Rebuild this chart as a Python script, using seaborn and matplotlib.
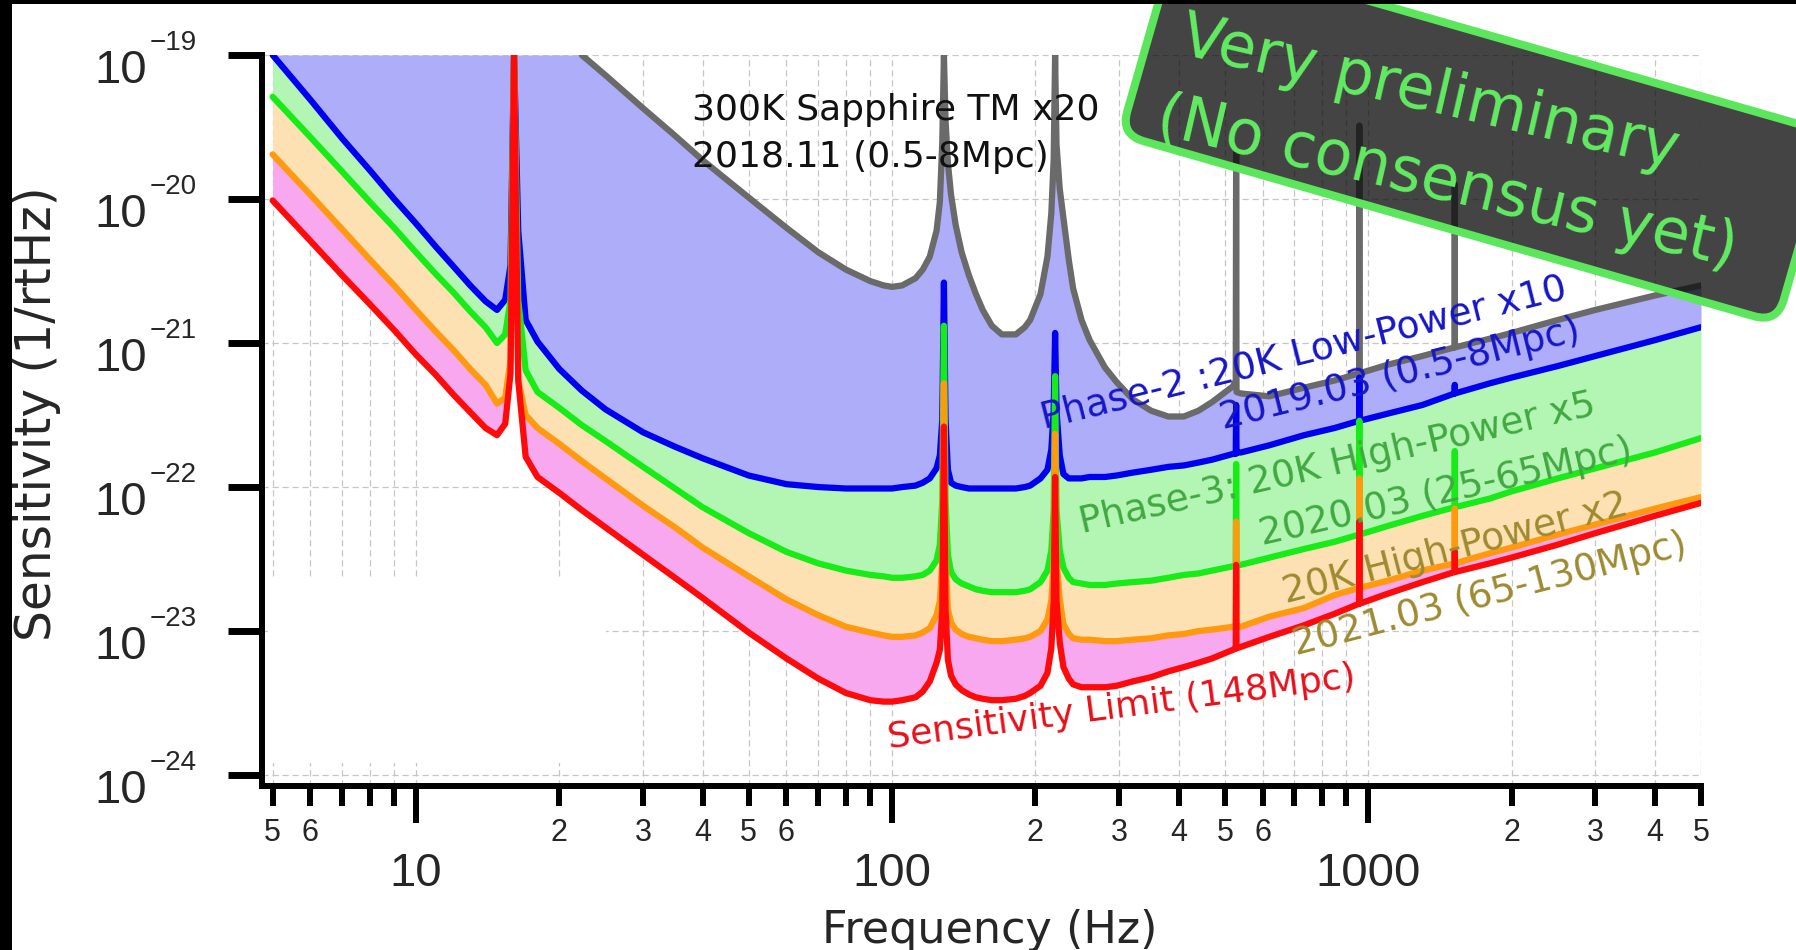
import numpy as np
import pandas as pd
import matplotlib
matplotlib.use("Agg")
import matplotlib.pyplot as plt
import seaborn as sns
from matplotlib.patches import FancyBboxPatch, Rectangle
from matplotlib.transforms import Affine2D
from matplotlib.ticker import FixedLocator, FixedFormatter, NullLocator, NullFormatter

# ---------------- data ----------------
freq_hz = [5, 6, 7, 8, 9, 10, 11, 12, 13, 14,
           14.8, 15.4, 15.8, 16.07, 16.4, 17, 18, 20, 22.3, 25,
           30, 35, 40, 50, 60, 70, 80, 90, 96, 100,
           105, 112, 116, 120, 124, 126, 127.5, 128.5, 129.5, 131,
           133, 136, 140, 145, 150, 155, 162, 170, 182, 190,
           195, 205, 212, 216, 218.5, 220, 221.5, 225, 229, 235,
           240, 250, 260, 280, 296, 320, 350, 380, 410, 440,
           470, 520, 527, 528, 529, 540, 620, 733, 850, 957,
           958, 959, 1100, 1300, 1519, 1520, 1521, 1800, 2000, 2500,
           3000, 4000, 5000]

# log10 of sensitivity [1/rtHz]
limit_log10 = [-20.01, -20.29, -20.53, -20.73, -20.91, -21.08, -21.22, -21.36, -21.48, -21.59,
               -21.64, -21.56, -21.21, -19.00, -21.26, -21.79, -21.93, -22.04, -22.16, -22.28,
               -22.47, -22.63, -22.77, -23.01, -23.19, -23.33, -23.43, -23.48, -23.49, -23.49,
               -23.48, -23.46, -23.42, -23.35, -23.22, -23.13, -22.85, -21.58, -22.85, -23.20,
               -23.31, -23.37, -23.41, -23.44, -23.46, -23.47, -23.48, -23.48, -23.47, -23.45,
               -23.43, -23.38, -23.29, -23.12, -22.79, -21.93, -22.79, -23.08, -23.25, -23.33,
               -23.37, -23.39, -23.39, -23.39, -23.38, -23.35, -23.32, -23.28, -23.25, -23.22,
               -23.19, -23.13, -23.12, -22.54, -23.12, -23.11, -23.04, -22.96, -22.88, -22.81,
               -22.24, -22.81, -22.74, -22.66, -22.59, -22.45, -22.59, -22.53, -22.49, -22.40,
               -22.32, -22.20, -22.11]

hp_x2_log10 = [-19.69, -19.97, -20.21, -20.42, -20.60, -20.77, -20.92, -21.05, -21.18, -21.29,
               -21.42, -21.38, -21.12, -19.00, -21.26, -21.50, -21.59, -21.70, -21.82, -21.94,
               -22.13, -22.28, -22.42, -22.62, -22.78, -22.89, -22.97, -23.01, -23.03, -23.04,
               -23.04, -23.03, -23.01, -22.98, -22.89, -22.79, -22.51, -21.28, -22.51, -22.85,
               -22.94, -22.99, -23.02, -23.04, -23.05, -23.06, -23.07, -23.07, -23.06, -23.05,
               -23.04, -23.00, -22.92, -22.79, -22.51, -21.63, -22.51, -22.78, -22.95, -23.02,
               -23.05, -23.06, -23.06, -23.07, -23.07, -23.06, -23.05, -23.03, -23.02, -23.00,
               -22.99, -22.97, -22.97, -22.24, -22.97, -22.97, -22.90, -22.84, -22.75, -22.70,
               -21.94, -22.70, -22.65, -22.58, -22.53, -22.15, -22.53, -22.46, -22.42, -22.33,
               -22.26, -22.15, -22.07]

hp_x5_log10 = [-19.29, -19.57, -19.81, -20.02, -20.20, -20.37, -20.52, -20.65, -20.78, -20.89,
               -21.00, -20.94, -20.70, -19.00, -20.70, -21.19, -21.34, -21.45, -21.57, -21.68,
               -21.86, -22.01, -22.14, -22.32, -22.45, -22.53, -22.58, -22.61, -22.62, -22.63,
               -22.63, -22.62, -22.61, -22.58, -22.51, -22.40, -22.09, -20.88, -22.09, -22.47,
               -22.59, -22.64, -22.67, -22.69, -22.71, -22.72, -22.73, -22.73, -22.73, -22.72,
               -22.71, -22.66, -22.58, -22.44, -22.16, -21.23, -22.16, -22.44, -22.56, -22.63,
               -22.66, -22.67, -22.68, -22.68, -22.67, -22.66, -22.65, -22.63, -22.61, -22.60,
               -22.58, -22.55, -22.55, -21.84, -22.54, -22.54, -22.49, -22.43, -22.38, -22.33,
               -21.54, -22.33, -22.27, -22.20, -22.14, -21.75, -22.14, -22.08, -22.03, -21.94,
               -21.87, -21.76, -21.66]

lp_x10_log10 = [-19.00, -19.31, -19.58, -19.80, -20.00, -20.17, -20.33, -20.47, -20.60, -20.71,
                -20.77, -20.70, -20.46, -19.00, -20.22, -20.84, -20.99, -21.18, -21.33, -21.46,
                -21.62, -21.72, -21.80, -21.92, -21.98, -22.00, -22.01, -22.01, -22.01, -22.01,
                -22.00, -21.99, -21.97, -21.94, -21.87, -21.78, -21.53, -20.58, -21.53, -21.88,
                -21.97, -21.99, -22.00, -22.01, -22.01, -22.01, -22.01, -22.01, -22.01, -22.00,
                -21.99, -21.94, -21.88, -21.74, -21.47, -20.93, -21.47, -21.78, -21.91, -21.94,
                -21.94, -21.94, -21.93, -21.93, -21.92, -21.90, -21.88, -21.86, -21.85, -21.83,
                -21.81, -21.77, -21.77, -21.43, -21.76, -21.76, -21.71, -21.64, -21.59, -21.54,
                -21.24, -21.54, -21.49, -21.43, -21.35, -21.29, -21.35, -21.28, -21.24, -21.16,
                -21.09, -20.98, -20.89]

nan = float("nan")
# 300K sapphire curve is above the plotted range below ~22 Hz
sapphire_log10 = [nan] * 18 + [
    -19.00, -19.14,
    -19.37, -19.56, -19.73, -19.99, -20.20, -20.37, -20.49, -20.57, -20.60, -20.61,
    -20.60, -20.55, -20.49, -20.40, -20.22, -20.02, -19.60, -19.00, -19.45, -19.75,
    -19.97, -20.18, -20.37, -20.53, -20.66, -20.77, -20.88, -20.94, -20.94, -20.89,
    -20.84, -20.66, -20.40, -20.10, -19.72, -19.00, -19.62, -19.93, -20.13, -20.42,
    -20.62, -20.84, -20.98, -21.17, -21.27, -21.39, -21.47, -21.51, -21.51, -21.47,
    -21.41, -21.30, -21.26, -19.66, -21.34, -21.35, -21.37, -21.31, -21.26, -21.21,
    -19.49, -21.21, -21.15, -21.09, -21.03, -19.90, -21.03, -20.97, -20.93, -20.84,
    -20.77, -20.67, -20.60]

x_major_ticks = [10, 100, 1000]
x_major_labels = ["10", "100", "1000"]
x_minor_ticks = [5, 6, 7, 8, 9, 20, 30, 40, 50, 60, 70, 80, 90,
                 200, 300, 400, 500, 600, 700, 800, 900, 2000, 3000, 4000, 5000]
x_minor_labels = ["5", "6", "", "", "", "2", "3", "4", "5", "6", "", "", "",
                  "2", "3", "4", "5", "6", "", "", "", "2", "3", "4", "5"]
y_decades = [-19, -20, -21, -22, -23, -24]

# ---------------- styling ----------------
sns.set_style("white")
plt.rcParams["font.family"] = ["DejaVu Sans"]

W, H, DPI = 1796, 950, 100
fig = plt.figure(figsize=(W / DPI, H / DPI), dpi=DPI, facecolor="white")


def px(x, y):
    return x / W, 1 - y / H


AX_L, AX_R, AX_T, AX_B = 262, 1701, 55, 786
ax = fig.add_axes([AX_L / W, 1 - AX_B / H, (AX_R - AX_L) / W, (AX_B - AX_T) / H])
ax.set_xscale("log")
ax.set_yscale("log")
ax.set_xlim(4.75, 5000)
ax.set_ylim(8.4e-25, 1e-19)
ax.set_facecolor("white")
ax.set_axisbelow(True)

f = np.array(freq_hz)
red = 10.0 ** np.array(limit_log10)
orange = 10.0 ** np.array(hp_x2_log10)
green = 10.0 ** np.array(hp_x5_log10)
blue = 10.0 ** np.array(lp_x10_log10)
gray = 10.0 ** np.array(sapphire_log10)
gray_top = np.where(np.isnan(gray), 1e-19, gray)

# grid
grid_kw = dict(color="#c6c6c6", lw=0.9, ls=(0, (5, 3)))
ax.grid(True, which="major", axis="y", **grid_kw)
ax.grid(True, which="both", axis="x", **grid_kw)

# blank (white) area hiding grid in lower left, as in reference
ax.add_patch(Rectangle((0.004, 0.031), 0.235, 0.255, transform=ax.transAxes,
                       facecolor="white", edgecolor="none", zorder=0.8))

# fills
ax.fill_between(f, blue, gray_top, color="#adadf9", lw=0, zorder=1.2)
ax.fill_between(f, green, blue, color="#b3f6b3", lw=0, zorder=1.3)
ax.fill_between(f, orange, green, color="#fde1b3", lw=0, zorder=1.4)
ax.fill_between(f, red, orange, color="#f7a8ee", lw=0, zorder=1.5)

# lines via seaborn
frames = []
for name, vals in [("sapphire", gray), ("lp10", blue), ("hp5", green),
                   ("hp2", orange), ("limit", red)]:
    frames.append(pd.DataFrame({"freq": f, "asd": vals, "curve": name}))
df = pd.concat(frames, ignore_index=True)
styles = {"sapphire": ("#6a6a6a", 3.0), "lp10": ("#0000f0", 3.1),
          "hp5": ("#18ec18", 3.2), "hp2": ("#ff9a10", 3.3), "limit": ("#ff0a0a", 3.4)}
for name, (col, z) in styles.items():
    sub = df[df["curve"] == name].dropna()
    sns.lineplot(data=sub, x="freq", y="asd", color=col, linewidth=4.5,
                 estimator=None, sort=False, ax=ax, legend=False, zorder=z)

# spines
for s in ["top", "right"]:
    ax.spines[s].set_visible(False)
for s in ["left", "bottom"]:
    ax.spines[s].set_linewidth(4.3)
    ax.spines[s].set_color("black")

# ticks
ax.xaxis.set_major_locator(FixedLocator(x_major_ticks))
ax.xaxis.set_major_formatter(FixedFormatter(x_major_labels))
ax.xaxis.set_minor_locator(FixedLocator(x_minor_ticks))
ax.xaxis.set_minor_formatter(FixedFormatter(x_minor_labels))
ax.yaxis.set_major_locator(FixedLocator([10.0 ** d for d in y_decades]))
ax.yaxis.set_major_formatter(NullFormatter())
ax.yaxis.set_minor_locator(NullLocator())
ax.tick_params(axis="x", which="major", direction="out", bottom=True, length=26.6,
               width=4.3, pad=21, labelsize=34, labelfontfamily="Liberation Sans", color="black")
ax.tick_params(axis="x", which="minor", direction="out", bottom=True, length=14.4,
               width=4.3, pad=8.5, labelsize=22, labelfontfamily="Liberation Sans", color="black")
ax.tick_params(axis="y", which="major", direction="out", left=True, length=24.5,
               width=5, color="black")

# y tick labels: 10 with superscript exponent
for d in y_decades:
    ax.annotate("10", xy=(0, 10.0 ** d), xycoords=("axes fraction", "data"),
                xytext=(-115, -28), textcoords="offset pixels", ha="right", va="baseline",
                fontsize=34, family="Liberation Sans", annotation_clip=False)
    ax.annotate("\u2212" + str(-d), xy=(0, 10.0 ** d), xycoords=("axes fraction", "data"),
                xytext=(-112, 5), textcoords="offset pixels", ha="left", va="baseline",
                fontsize=20, family="Liberation Sans", annotation_clip=False)

# axis labels
ax.set_xlabel("Frequency (Hz)", fontsize=32)
ax.xaxis.label.set_va("baseline")
ax.xaxis.set_label_coords((990 - AX_L) / (AX_R - AX_L), (AX_B - 943) / (AX_B - AX_T))
ax.set_ylabel("Sensitivity (1/rtHz)", fontsize=35)
ax.yaxis.label.set_va("center")
ax.yaxis.set_label_coords((37 - AX_L) / (AX_R - AX_L), (AX_B - 414) / (AX_B - AX_T))

# curve annotations
lab = dict(fontsize=26, va="baseline", rotation_mode="anchor", zorder=6)
fig.text(*px(692, 120), "300K Sapphire TM x20", ha="left", color="#111111", **lab)
fig.text(*px(692, 167), "2018.11 (0.5-8Mpc)", ha="left", color="#111111", **lab)

lab27 = dict(lab, fontsize=27)
fig.text(*px(1569, 298), "Phase-2 :20K Low-Power x10", ha="right", rotation=14,
         color="#1616c8", **lab27)
fig.text(*px(1582, 340), "2019.03 (0.5-8Mpc)", ha="right", rotation=14,
         color="#1616c8", **lab27)
fig.text(*px(1082, 533), "Phase-3: 20K High-Power x5", ha="left", rotation=13,
         color="#42a842", **lab27)
fig.text(*px(1262, 545), "2020.03 (25-65Mpc)", ha="left", rotation=13,
         color="#42a842", **lab27)
fig.text(*px(1286, 603), "20K High-Power x2", ha="left", rotation=14.5,
         color="#9e8a30", **lab27)
fig.text(*px(1296, 655), "2021.03 (65-130Mpc)", ha="left", rotation=14.5,
         color="#9e8a30", **lab27)
fig.text(*px(889, 748), "Sensitivity Limit (148Mpc)", ha="left", rotation=7.5,
         color="#e8101a", **lab)

# "Very preliminary" stamp
cx, cy = 1476, H - 134
bw, bh = 683, 197
stamp = FancyBboxPatch((cx - bw / 2, cy - bh / 2), bw, bh,
                       boxstyle="round,pad=0,rounding_size=24",
                       transform=Affine2D().rotate_deg_around(cx, cy, -16),
                       facecolor=(0.06, 0.06, 0.06, 0.78), edgecolor="#5ce65c",
                       linewidth=5.8, zorder=7)
fig.add_artist(stamp)
stamp_kw = dict(rotation=-13, rotation_mode="anchor", ha="left", va="baseline",
                fontsize=44.5, color="#62ec62", zorder=8)
fig.text(*px(1178, 53), "Very preliminary", **stamp_kw)
fig.text(*px(1154, 133), "(No consensus yet)", **stamp_kw)

# black frame edges of the original screenshot
fig.add_artist(Rectangle((0, 0), 12 / W, 1, transform=fig.transFigure,
                         facecolor="black", edgecolor="none", zorder=9))
fig.add_artist(Rectangle((0, 1 - 4 / H), 1, 4 / H, transform=fig.transFigure,
                         facecolor="black", edgecolor="none", zorder=9))

fig.savefig("out.png", dpi=DPI, facecolor="white")
